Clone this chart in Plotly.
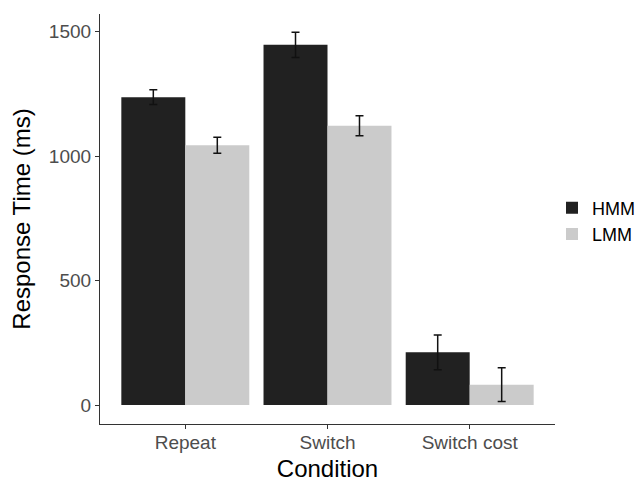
import plotly.graph_objects as go

conditions = ["Repeat", "Switch", "Switch cost"]
hmm_values = [1237, 1447, 212]
hmm_errors = [30, 51, 70]
lmm_values = [1044, 1122, 82]
lmm_errors = [32, 40, 68]
y_ticks = [0, 500, 1000, 1500]

FONT = "Liberation Sans, Arial, sans-serif"

# page has an 8px body margin, so the figure is sized to fit the window
W, H = 635, 474

fig = go.Figure()
fig.add_trace(go.Bar(
    name="HMM", x=conditions, y=hmm_values,
    marker=dict(color="#212121", line=dict(width=0)),
    error_y=dict(type="data", array=hmm_errors, color="#111111", thickness=1.5, width=4),
))
fig.add_trace(go.Bar(
    name="LMM", x=conditions, y=lmm_values,
    marker=dict(color="#cbcbcb", line=dict(width=0)),
    error_y=dict(type="data", array=lmm_errors, color="#111111", thickness=1.5, width=4),
))

fig.update_layout(
    width=W, height=H,
    margin=dict(l=92, r=88, t=6, b=58, autoexpand=False),
    paper_bgcolor="white", plot_bgcolor="white",
    barmode="group", bargap=0.1, bargroupgap=0,
    font=dict(family=FONT, color="#000000"),
    legend=dict(
        xref="container", yref="container",
        x=544 / W, y=1 - 213 / H, xanchor="left", yanchor="middle",
        font=dict(size=18, color="#000000", family=FONT),
        tracegroupgap=0, itemwidth=30,
        bgcolor="rgba(0,0,0,0)",
    ),
    showlegend=True,
)
fig.update_xaxes(
    type="category", range=[-0.6, 2.6],
    showline=True, linecolor="#333333", linewidth=1.2,
    ticks="outside", ticklen=4, tickcolor="#333333", tickwidth=1,
    ticklabelstandoff=-3,
    tickfont=dict(size=19, color="#4d4d4d", family=FONT),
    title=dict(text="Condition", font=dict(size=24, color="#000000", family=FONT), standoff=11),
    showgrid=False, zeroline=False,
)
fig.update_yaxes(
    range=[-76, 1571],
    tickvals=y_ticks, ticktext=[str(v) for v in y_ticks],
    showline=True, linecolor="#333333", linewidth=1.2,
    ticks="outside", ticklen=4, tickcolor="#333333", tickwidth=1,
    tickfont=dict(size=19, color="#4d4d4d", family=FONT),
    title=dict(text="Response Time (ms)", font=dict(size=24, color="#000000", family=FONT), standoff=12),
    showgrid=False, zeroline=False,
)

fig.write_html("out.html")
